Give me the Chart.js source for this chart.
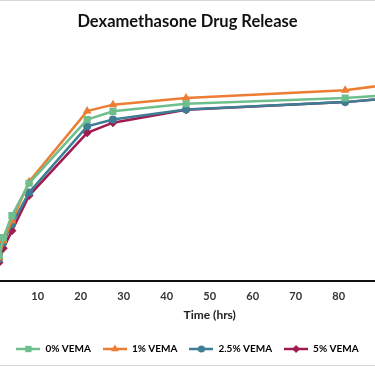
<!DOCTYPE html>
<html>
<head>
<meta charset="utf-8">
<script src="https://cdn.jsdelivr.net/npm/chart.js@4.4.1/dist/chart.umd.min.js"></script>
<style>
  html, body { margin: 0; padding: 0; background: #fff; }
  #wrap { width: 375px; height: 366px; }
</style>
</head>
<body>
<div id="wrap"><canvas id="c" width="375" height="366"></canvas></div>
<script>
const chartTitle = "Dexamethasone Drug Release";
const xTitle = "Time (hrs)";
const seriesNames = ["0% VEMA", "1% VEMA", "2.5% VEMA", "5% VEMA"];
const times = [0, 1, 2, 4, 8, 21.5, 27.5, 44.5, 81.5, 96];
const vema0  = [0, 11, 18.8, 28.3, 42.3, 69.9, 73.5, 76.8, 79.3, 81.1];
const vema1  = [0, 10, 17.4, 26.1, 43.0, 73.6, 76.4, 79.3, 82.6, 86.2];
const vema25 = [0, 9.5, 16.7, 24.6, 38.3, 67.0, 70.0, 74.3, 77.5, 79.9];
const vema5  = [0, 8, 14.2, 21.7, 37.0, 64.2, 68.6, 74.2, 77.5, 79.9];
const xTicks = [10, 20, 30, 40, 50, 60, 70, 80];
const xFullRange = [0, 100];

const colors = ["#6EBF8D", "#EE7D34", "#3D7E94", "#A01B50"];
const styles = ["rect", "triangle", "circle", "rectRot"];
const radii = [5, 5, 4, 4.5];
const values = [vema0, vema1, vema25, vema5];

const axisTitleFont = { family: "Lato", size: 12, weight: "bold" };
const axisTitlePadding = { top: -4.5, bottom: 10 };

function markerPath(ctx, style, x, y, r) {
  ctx.beginPath();
  if (style === "rect") {
    const s = Math.SQRT1_2 * r;
    ctx.rect(x - s, y - s, 2 * s, 2 * s);
  } else if (style === "triangle") {
    ctx.moveTo(x, y - r);
    ctx.lineTo(x + r * 0.866, y + r * 0.5);
    ctx.lineTo(x - r * 0.866, y + r * 0.5);
    ctx.closePath();
  } else if (style === "circle") {
    ctx.arc(x, y, r, 0, Math.PI * 2);
  } else {
    ctx.moveTo(x, y - r);
    ctx.lineTo(x + r, y);
    ctx.lineTo(x, y + r);
    ctx.lineTo(x - r, y);
    ctx.closePath();
  }
}

function legendImage(i) {
  const cv = document.createElement("canvas");
  cv.width = 24; cv.height = 12;
  const g = cv.getContext("2d");
  g.strokeStyle = colors[i];
  g.lineWidth = 2.5;
  g.beginPath(); g.moveTo(0, 6); g.lineTo(24, 6); g.stroke();
  g.fillStyle = colors[i];
  markerPath(g, styles[i], 12, 6, radii[i] * 0.9);
  g.fill();
  return cv;
}

const datasets = seriesNames.map((name, i) => ({
  label: name,
  data: times.map((t, k) => ({ x: t, y: values[i][k] })),
  borderColor: colors[i],
  backgroundColor: colors[i],
  borderWidth: 2.5,
  pointStyle: styles[i],
  pointRadius: radii[i],
  pointBorderWidth: 0,
  tension: 0
}));

const frame = {
  id: "frame",
  afterDraw(chart) {
    const c = chart.ctx;
    c.save();
    c.fillStyle = "#d9d9d9";
    c.fillRect(0, 0, chart.width, 1);
    c.fillRect(0, chart.height - 1, chart.width, 1);
    // axis title centred on the full (uncropped) time axis
    const s = chart.scales.x;
    const lh = axisTitleFont.size * 1.2;
    const cx = s.getPixelForValue((xFullRange[0] + xFullRange[1]) / 2);
    const cy = s.bottom - axisTitlePadding.bottom - lh / 2;
    c.fillStyle = "#222";
    c.font = `${axisTitleFont.weight} ${axisTitleFont.size}px ${axisTitleFont.family}`;
    c.textAlign = "center";
    c.textBaseline = "middle";
    c.fillText(xTitle, cx, cy);
    c.restore();
  }
};

new Chart(document.getElementById("c"), {
  type: "line",
  data: { datasets },
  plugins: [frame],
  options: {
    responsive: false,
    animation: false,
    layout: { autoPadding: false, padding: { left: 0, right: 0, top: 0, bottom: 2 } },
    plugins: {
      title: {
        display: true,
        text: chartTitle,
        color: "#111",
        font: { family: "Lato", size: 16.5, weight: "bold" },
        padding: { top: 12, bottom: 11.5 }
      },
      legend: {
        position: "bottom",
        labels: {
          usePointStyle: true,
          pointStyleWidth: 24,
          boxHeight: 11,
          padding: 12,
          color: "#333",
          font: { family: "Lato", size: 10, weight: "bold" },
          generateLabels: (chart) => seriesNames.map((n, i) => ({
            text: n,
            pointStyle: legendImage(i),
            fillStyle: colors[i],
            strokeStyle: colors[i],
            lineWidth: 0,
            datasetIndex: i,
            hidden: false
          }))
        }
      },
      tooltip: { enabled: false }
    },
    scales: {
      x: {
        type: "linear",
        min: 1.23,
        max: 88.44,
        afterBuildTicks: (s) => { s.ticks = xTicks.map(v => ({ value: v })); },
        afterFit: (s) => { s.paddingLeft = 0; s.paddingRight = 0; },
        grid: { display: false, drawTicks: false },
        border: { display: true, color: "#111", width: 2 },
        ticks: {
          color: "#333",
          padding: 9,
          maxRotation: 0,
          font: { family: "Lato", size: 11, weight: "bold" }
        },
        title: {
          display: true,
          text: xTitle,
          color: "rgba(0,0,0,0)",
          padding: axisTitlePadding,
          font: axisTitleFont
        }
      },
      y: {
        display: false,
        min: 0,
        max: 103
      }
    }
  }
});
</script>
</body>
</html>
